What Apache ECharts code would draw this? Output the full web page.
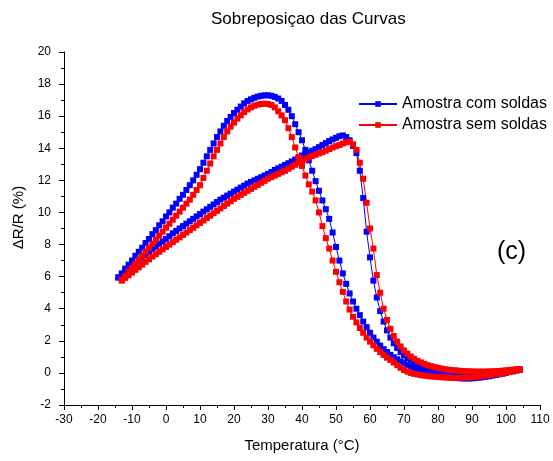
<!DOCTYPE html>
<html>
<head>
<meta charset="utf-8">
<script src="https://cdn.jsdelivr.net/npm/echarts@6/dist/echarts.min.js"></script>
<style>
html,body{margin:0;padding:0;background:#fff;}
#chart{width:553px;height:461px;}
</style>
</head>
<body>
<div id="chart"></div>
<script>
// Temperature samples (°C)
var temps = [
 -14,-13,-12,-11,-10,-9,-8,-7,-6,-5,
 -4,-3,-2,-1,0,1,2,3,4,5,
 6,7,8,9,10,11,12,13,14,15,
 16,17,18,19,20,21,22,23,24,25,
 26,27,28,29,30,31,32,33,34,35,
 36,37,38,39,40,41,42,43,44,45,
 46,47,48,49,50,51,52,53,54,55,
 56,57,58,59,60,61,62,63,64,65,
 66,67,68,69,70,71,72,73,74,75,
 76,77,78,79,80,81,82,83,84,85,
 86,87,88,89,90,91,92,93,94,95,
 96,97,98,99,100,101,102,103,104
];
// Amostra com soldas – heating branch (ΔR/R %)
var blueHeat = [
 5.95,6.1,6.3,6.47,6.65,6.82,7.0,7.17,7.35,7.52,
 7.7,7.87,8.05,8.2,8.35,8.52,8.7,8.85,9.0,9.15,
 9.3,9.45,9.6,9.75,9.9,10.05,10.2,10.35,10.5,10.65,
 10.8,10.92,11.05,11.17,11.3,11.42,11.55,11.67,11.8,11.9,
 12.0,12.1,12.2,12.3,12.4,12.52,12.65,12.75,12.85,12.96,
 13.07,13.18,13.3,13.42,13.55,13.65,13.75,13.85,13.95,14.07,
 14.2,14.32,14.45,14.55,14.65,14.75,14.8,14.7,14.5,14.15,
 13.7,12.6,10.9,8.8,7.2,5.75,4.7,3.85,3.2,2.65,
 2.2,1.85,1.55,1.3,1.1,0.93,0.8,0.68,0.58,0.5,
 0.42,0.36,0.3,0.25,0.2,0.16,0.13,0.1,0.08,0.06,
 0.04,0.03,0.02,0.01,0.0,0.0,0.0,0.0,0.01,0.02,
 0.03,0.05,0.07,0.09,0.11,0.14,0.17,0.2,0.22
];
// Amostra com soldas – cooling branch
var blueCool = [
 5.95,6.2,6.5,6.75,7.0,7.3,7.55,7.8,8.1,8.35,
 8.65,8.9,9.2,9.45,9.75,10.0,10.3,10.55,10.85,11.1,
 11.4,11.7,12.0,12.35,12.7,13.1,13.5,13.9,14.3,14.7,
 15.05,15.4,15.7,15.95,16.2,16.4,16.6,16.8,16.95,17.05,
 17.15,17.22,17.27,17.3,17.3,17.27,17.2,17.1,16.95,16.7,
 16.4,16.0,15.5,15.0,14.5,13.9,13.25,12.6,11.95,11.35,
 10.75,10.2,9.6,8.75,7.85,7.0,6.2,5.55,4.95,4.45,
 4.0,3.6,3.2,2.85,2.5,2.2,1.95,1.7,1.48,1.3,
 1.13,0.98,0.85,0.72,0.6,0.5,0.4,0.31,0.23,0.16,
 0.1,0.04,-0.02,-0.07,-0.12,-0.17,-0.21,-0.25,-0.28,-0.31,
 -0.33,-0.34,-0.35,-0.35,-0.34,-0.32,-0.3,-0.27,-0.24,-0.21,
 -0.17,-0.13,-0.09,-0.05,0.0,0.05,0.1,0.15,0.2
];
// Amostra sem soldas – heating branch
var redHeat = [
 null,5.75,5.92,6.08,6.25,6.42,6.58,6.75,6.92,7.08,
 7.25,7.4,7.55,7.7,7.85,8.0,8.15,8.3,8.45,8.6,
 8.75,8.9,9.05,9.2,9.35,9.5,9.65,9.8,9.95,10.1,
 10.25,10.4,10.55,10.7,10.85,10.97,11.1,11.22,11.35,11.47,
 11.6,11.72,11.85,11.97,12.1,12.2,12.3,12.4,12.5,12.6,
 12.72,12.85,12.97,13.1,13.22,13.33,13.43,13.52,13.6,13.68,
 13.76,13.85,13.95,14.05,14.13,14.2,14.3,14.37,14.4,14.25,
 13.9,13.1,12.1,10.6,9.0,7.75,6.1,5.0,4.0,3.3,
 2.75,2.3,1.95,1.65,1.4,1.2,1.02,0.88,0.75,0.65,
 0.56,0.48,0.42,0.36,0.31,0.27,0.23,0.2,0.18,0.16,
 0.14,0.12,0.11,0.1,0.09,0.08,0.08,0.08,0.08,0.09,
 0.1,0.11,0.12,0.14,0.16,0.18,0.2,0.22,0.24
];
// Amostra sem soldas – cooling branch
var redCool = [
 null,5.8,6.05,6.3,6.55,6.8,7.05,7.3,7.55,7.8,
 8.05,8.3,8.55,8.8,9.05,9.3,9.55,9.8,10.05,10.3,
 10.55,10.8,11.1,11.4,11.7,12.15,12.6,13.05,13.5,13.9,
 14.3,14.7,15.05,15.35,15.6,15.85,16.05,16.25,16.42,16.55,
 16.65,16.72,16.76,16.78,16.76,16.7,16.55,16.3,16.05,15.75,
 15.25,14.7,14.05,13.45,12.9,12.3,11.75,11.3,10.75,10.0,
 9.15,8.4,7.75,7.0,6.3,5.65,5.05,4.45,3.95,3.5,
 3.15,2.8,2.5,2.2,1.95,1.72,1.5,1.3,1.12,0.95,
 0.8,0.64,0.48,0.32,0.18,0.08,0.0,-0.06,-0.1,-0.14,
 -0.17,-0.2,-0.22,-0.24,-0.26,-0.27,-0.28,-0.29,-0.3,-0.31,
 -0.31,-0.31,-0.3,-0.29,-0.27,-0.25,-0.23,-0.2,-0.17,-0.14,
 -0.11,-0.08,-0.05,-0.02,0.02,0.06,0.1,0.14,0.19
];
var seriesNames = ['Amostra com soldas', 'Amostra sem soldas'];
var xTicks = [-30,-20,-10,0,10,20,30,40,50,60,70,80,90,100,110];
var yTicks = [-2,0,2,4,6,8,10,12,14,16,18,20];

function loop(heat, cool) {
  var pts = [];
  for (var i = 0; i < temps.length; i++) {
    if (heat[i] != null) pts.push([temps[i], heat[i]]);
  }
  for (var j = temps.length - 1; j >= 0; j--) {
    if (cool[j] != null) pts.push([temps[j], cool[j]]);
  }
  return pts;
}

var FONT = 'Liberation Sans, Arial, sans-serif';
var chart = echarts.init(document.getElementById('chart'), null, {renderer: 'canvas'});

function axisCommon() {
  return {
    type: 'value',
    axisLine: {show: true, onZero: false, lineStyle: {color: '#000', width: 1}},
    axisTick: {show: true, inside: false, length: 5, lineStyle: {color: '#000'}},
    minorTick: {show: true, splitNumber: 2, length: 3, lineStyle: {color: '#000'}},
    splitLine: {show: false},
    minorSplitLine: {show: false},
    axisLabel: {color: '#000', fontSize: 12, fontFamily: FONT}
  };
}

var xAxis = axisCommon();
xAxis.min = xTicks[0];
xAxis.max = xTicks[xTicks.length - 1];
xAxis.interval = 10;
xAxis.axisLabel.margin = 9;
xAxis.name = 'Temperatura (°C)';
xAxis.nameLocation = 'middle';
xAxis.nameGap = 33;
xAxis.nameTextStyle = {color: '#000', fontSize: 15, fontFamily: FONT};

var yAxis = axisCommon();
yAxis.min = yTicks[0];
yAxis.max = yTicks[yTicks.length - 1];
yAxis.interval = 2;
yAxis.axisLabel.margin = 13;
yAxis.name = 'ΔR/R (%)';
yAxis.nameLocation = 'middle';
yAxis.nameGap = 30;
yAxis.nameRotate = 90;
yAxis.nameTextStyle = {color: '#000', fontSize: 15, fontFamily: FONT, padding: [0, 0, 0, 22]};

var colors = ['#0000ff', '#ff0000'];
var loops = [loop(blueHeat, blueCool), loop(redHeat, redCool)];

chart.setOption({
  animation: false,
  backgroundColor: '#fff',
  title: {
    text: 'Sobreposiçao das Curvas',
    left: 206, top: 6,
    textStyle: {color: '#000', fontSize: 17, fontWeight: 'normal', fontFamily: FONT}
  },
  legend: {
    data: seriesNames,
    orient: 'vertical',
    left: 358, top: 96, padding: 0,
    itemWidth: 38, itemHeight: 7, itemGap: 5,
    textStyle: {color: '#000', fontSize: 16, fontFamily: FONT}
  },
  grid: {left: 64, right: 13, top: 52, bottom: 56, containLabel: false},
  xAxis: xAxis,
  yAxis: yAxis,
  graphic: [{
    type: 'text', left: 497, top: 240,
    style: {text: '(c)', fill: '#000', fontSize: 25, fontFamily: FONT}
  }],
  series: seriesNames.map(function (n, k) {
    return {
      name: n, type: 'line', data: loops[k],
      symbol: 'rect', symbolSize: 6, showSymbol: true, showAllSymbol: true,
      lineStyle: {color: colors[k], width: 1},
      itemStyle: {color: colors[k]},
      emphasis: {disabled: true}
    };
  })
});
</script>
</body>
</html>
